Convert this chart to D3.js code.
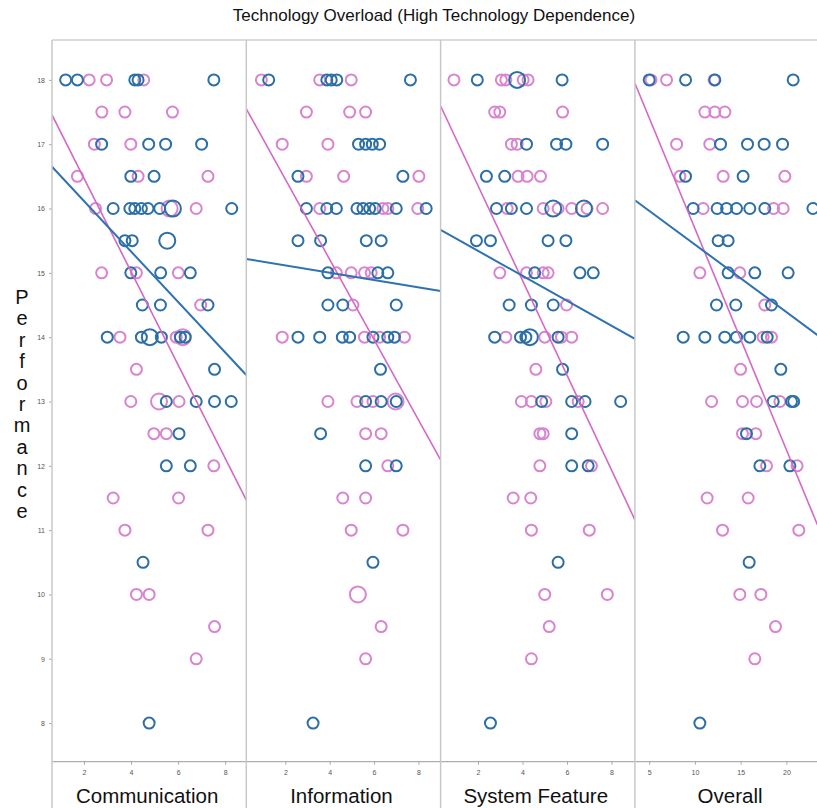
<!DOCTYPE html>
<html>
<head>
<meta charset="utf-8">
<script src="https://cdnjs.cloudflare.com/ajax/libs/d3/7.8.5/d3.min.js"></script>
<style>
  body { margin: 0; background: #fff; }
  svg { display: block; font-family: "Liberation Sans", Arial, sans-serif; }
</style>
</head>
<body>
<div class="container"></div>
<script>
const width = 817;
const height = 808;

const panelNames = ["Communication", "Information", "System Feature", "Overall"];
const xDomains = [[0.64, 8.9], [0.24, 9.0], [0.32, 9.05], [3.44, 24.68]];
const xTicks = [[2, 4, 6, 8], [2, 4, 6, 8], [2, 4, 6, 8], [5, 10, 15, 20]];
const yTicks = [8, 9, 10, 11, 12, 13, 14, 15, 16, 17, 18];

// [x, performance, big?]
const commBlue = [[1.22,18],[1.72,18],[4.16,18],[4.30,18],[7.52,18],
  [2.75,17],[4.75,17],[5.47,17],[7.0,17],[3.99,16.5],[4.98,16.5],
  [3.24,16],[3.95,16],[4.16,16],[4.44,16],[4.72,16],[5.22,16],[5.78,16,1],[8.28,16],
  [3.74,15.5],[4.05,15.5],[5.54,15.5,1],[3.99,15],[5.26,15],[6.52,15],
  [4.48,14.5],[5.25,14.5],[7.27,14.5],
  [2.99,14],[4.44,14],[4.80,14,1],[5.29,14],[6.1,14],[6.3,14],
  [7.55,13.5],[5.50,13],[6.77,13],[7.55,13],[8.26,13],[6.04,12.5],
  [5.50,12],[6.52,12],[4.51,10.5],[4.77,8]];
const commPink = [[2.22,18],[2.96,18],[4.54,18],[2.76,17.5],[3.74,17.5],[5.76,17.5],
  [2.44,17],[3.99,17],[1.72,16.5],[4.30,16.5],[7.27,16.5],
  [2.49,16],[5.64,16,1],[6.77,16],[2.75,15],[4.23,15],[6.01,15],[6.96,14.5],
  [3.53,14],[5.92,14],[6.2,14,1],[4.23,13.5],[3.99,13],[5.19,13,1],[6.04,13],
  [4.97,12.5],[5.50,12.5],[7.52,12],[3.24,11.5],[6.02,11.5],[3.74,11],[7.27,11],
  [4.23,10],[4.77,10],[7.55,9.5],[6.77,9]];

const infoBlue = [[1.25,18],[3.87,18],[4.07,18],[4.32,18],[7.64,18],
  [5.30,17],[5.62,17],[5.92,17],[6.25,17],[2.57,16.5],[7.30,16.5],
  [2.95,16],[3.87,16],[4.30,16],[5.23,16],[5.50,16],[5.80,16],[6.05,16],[7.0,16],[8.35,16],
  [2.57,15.5],[3.59,15.5],[5.65,15.5],[6.32,15.5],[3.92,15],[6.17,15],[6.62,15],
  [3.92,14.5],[4.59,14.5],[7.0,14.5],
  [2.57,14],[3.55,14],[4.57,14],[4.90,14],[5.95,14],[6.62,14],[6.92,14],
  [6.29,13.5],[5.62,13],[6.32,13],[7.0,13],[3.59,12.5],[5.62,12],[7.0,12],
  [5.95,10.5],[3.25,8]];
const infoPink = [[0.92,18],[3.55,18],[4.97,18],[2.95,17.5],[4.90,17.5],[5.62,17.5],
  [1.86,17],[3.92,17],[2.95,16.5],[4.63,16.5],[8.02,16.5],
  [3.55,16],[6.40,16],[6.62,16],[7.97,16],[4.30,15],[4.97,15],[5.57,15],[5.87,15],
  [5.05,14.5],[1.86,14],[5.57,14],[6.25,14],[7.37,14],
  [3.92,13],[5.23,13],[5.95,13],[6.97,13,1],[5.62,12.5],[6.32,12.5],[6.62,12],
  [4.59,11.5],[5.62,11.5],[4.97,11],[7.30,11],[5.27,10,1],[6.32,9.5],[5.62,9]];

const sysBlue = [[1.97,18],[3.76,18,1],[5.78,18],
  [4.18,17],[5.53,17],[5.95,17],[7.60,17],[2.38,16.5],[3.20,16.5],
  [2.83,16],[3.50,16],[4.18,16],[5.38,16,1],[6.76,16,1],
  [1.93,15.5],[2.56,15.5],[5.15,15.5],[5.95,15.5],[4.55,15],[6.58,15],[7.18,15],
  [3.40,14.5],[4.40,14.5],[5.38,14.5],
  [2.75,14],[3.91,14],[4.15,14],[4.33,14,1],[5.60,14],
  [5.80,13.5],[4.86,13],[6.21,13],[6.81,13],[8.41,13],[6.21,12.5],
  [6.21,12],[6.95,12],[5.60,10.5],[2.56,8]];
const sysPink = [[0.92,18],[3.05,18],[3.25,18],[4.03,18],[4.25,18],
  [2.75,17.5],[2.98,17.5],[5.80,17.5],[3.50,17],[3.76,17],
  [3.80,16.5],[4.21,16.5],[4.81,16.5],
  [3.31,16],[4.93,16],[5.60,16],[6.21,16],[6.9,16],[7.60,16],
  [2.98,15],[4.18,15],[4.93,15],[5.15,15],[5.98,14.5],
  [3.25,14],[5.0,14],[5.75,14],[6.21,14],[4.60,13.5],
  [3.95,13],[4.40,13],[5.05,13],[6.5,13],[4.78,12.5],[4.93,12.5],
  [4.78,12],[7.1,12],[3.58,11.5],[4.37,11.5],[4.40,11],[7.0,11],
  [5.0,10],[7.81,10],[5.20,9.5],[4.40,9]];

const overallBlue = [[5.0,18],[8.98,18],[12.18,18],[20.74,18],
  [12.80,17],[15.75,17],[17.57,17],[19.58,17],[8.98,16.5],[15.27,16.5],
  [9.81,16],[12.43,16],[13.46,16],[14.55,16],[16.0,16],[17.64,16],[22.9,16],
  [12.54,15.5],[13.63,15.5],[13.63,15],[16.55,15],[20.19,15],
  [12.36,14.5],[14.47,14.5],[18.37,14.5],
  [8.72,14],[11.09,14],[13.27,14],[14.55,14],[16.0,14],[17.9,14],
  [19.39,13.5],[18.56,13],[20.56,13],[20.8,13],[15.64,12.5],
  [17.1,12],[20.38,12],[15.93,10.5],[10.54,8]];
const overallPink = [[5.2,18],[6.9,18],[12.1,18],
  [11.09,17.5],[12.18,17.5],[13.27,17.5],[8.0,17],[11.63,17],
  [8.36,16.5],[13.09,16.5],[19.83,16.5],[10.9,16],[18.6,16],[19.65,16],
  [10.54,15],[14.91,15],[17.64,14.5],[17.46,14],[18.37,14],[14.99,13.5],
  [11.82,13],[15.2,13],[16.74,13],[19.29,13],[15.2,12.5],[16.66,12.5],
  [17.83,12],[21.17,12],[11.34,11.5],[15.82,11.5],[13.02,11],[21.36,11],
  [14.91,10],[17.21,10],[18.81,9.5],[16.55,9]];

const bluePoints = [commBlue, infoBlue, sysBlue, overallBlue];
const pinkPoints = [commPink, infoPink, sysPink, overallPink];

// fit lines: [intercept, slope]
const blueFits = [[16.90, -0.392], [15.23, -0.057], [15.73, -0.194], [16.49, -0.105]];
const pinkFits = [[17.92, -0.725], [17.70, -0.623], [17.83, -0.737], [19.13, -0.344]];

const blue = "#2c6fa6";
const pink = "#da84cf";

const plotLeft = 52, plotTop = 40, plotBottom = 761.7, panelW = 194.3;

const svg = d3.select(".container").append("svg").attr("width", width).attr("height", height);

const y = d3.scaleLinear().domain([7.4, 18.62]).range([plotBottom, plotTop]);

svg.append("text")
  .attr("x", 434).attr("y", 21)
  .attr("text-anchor", "middle")
  .style("font-size", "17px").attr("fill", "#111")
  .text("Technology Overload (High Technology Dependence)");

// frame
svg.append("line").attr("x1", plotLeft).attr("x2", width).attr("y1", plotTop).attr("y2", plotTop)
  .attr("stroke", "#d0d0d0").attr("stroke-width", 1.5);
svg.append("line").attr("x1", plotLeft).attr("x2", width).attr("y1", plotBottom).attr("y2", plotBottom)
  .attr("stroke", "#9a9a9a").attr("stroke-width", 1);

// y axis
const yAxis = svg.append("g").attr("transform", `translate(${plotLeft},0)`)
  .call(d3.axisLeft(y).tickValues(yTicks).tickSize(3).tickPadding(4));
yAxis.select(".domain").remove();
yAxis.selectAll("line").attr("stroke", "#aaa");
yAxis.selectAll("text").style("font-size", "7px").attr("fill", "#555");

// vertical "Performance"
const word = "Performance".split("");
svg.append("g").selectAll("text").data(word).enter().append("text")
  .attr("x", 22).attr("y", (d, i) => 304 + i * 21.4)
  .attr("text-anchor", "middle")
  .style("font-size", "20px").attr("fill", "#111")
  .text(d => d);

const line = d3.line();

panelNames.forEach((name, i) => {
  const x0 = plotLeft + i * panelW;
  const x = d3.scaleLinear().domain(xDomains[i]).range([x0, x0 + panelW]);

  svg.append("clipPath").attr("id", "clip" + i)
    .append("rect").attr("x", x0).attr("y", plotTop).attr("width", panelW).attr("height", plotBottom - plotTop);

  const g = svg.append("g").attr("clip-path", `url(#clip${i})`);

  const drawPts = (pts, color) => g.append("g").selectAll("circle")
    .data(pts).enter().append("circle")
      .attr("cx", d => x(d[0]))
      .attr("cy", d => y(d[1]))
      .attr("r", d => d[2] ? 8 : 5.5)
      .attr("fill", "none")
      .attr("stroke", color)
      .attr("stroke-width", 2);

  drawPts(pinkPoints[i], pink);
  drawPts(bluePoints[i], blue);

  const fitLine = (fit, color, w) => {
    const xs = xDomains[i];
    g.append("path")
      .attr("d", line(xs.map(v => [x(v), y(fit[0] + fit[1] * v)])))
      .attr("stroke", color).attr("stroke-width", w).attr("fill", "none");
  };
  fitLine(pinkFits[i], "#d468c8", 1.6);
  fitLine(blueFits[i], "#2e72b0", 2);

  // x axis
  const xa = svg.append("g").attr("transform", `translate(0,${plotBottom})`)
    .call(d3.axisBottom(x).tickValues(xTicks[i]).tickSize(3).tickPadding(5));
  xa.select(".domain").remove();
  xa.selectAll("line").attr("stroke", "#aaa");
  xa.selectAll("text").style("font-size", "7px").attr("fill", "#555");

  svg.append("text")
    .attr("x", x0 + panelW / 2 - 2).attr("y", 803)
    .attr("text-anchor", "middle")
    .style("font-size", "20.5px").attr("fill", "#111")
    .text(name);

  // panel left border
  svg.append("line").attr("x1", x0).attr("x2", x0).attr("y1", plotTop).attr("y2", height)
    .attr("stroke", "#c8c8c8").attr("stroke-width", 1.5);
});
</script>
</body>
</html>
